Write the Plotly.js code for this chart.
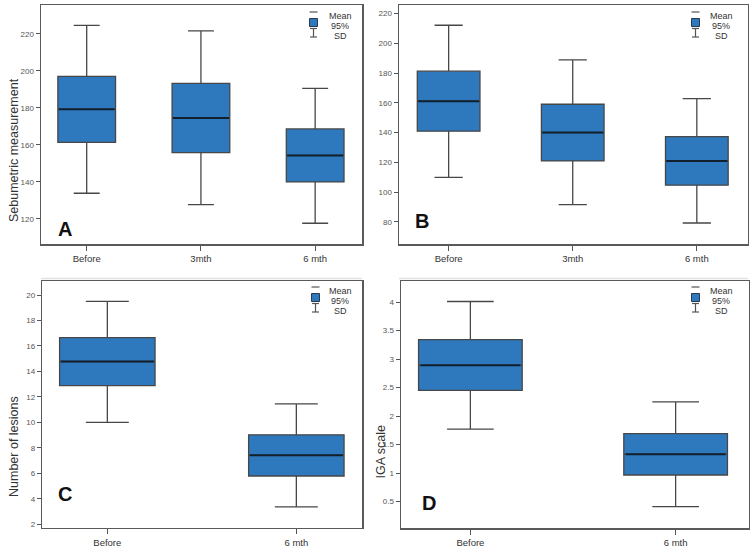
<!DOCTYPE html>
<html>
<head>
<meta charset="utf-8">
<script src="https://cdn.plot.ly/plotly-3.0.1.min.js"></script>
<style>
  html, body { margin: 0; padding: 0; background: #fff; }
  #chart { width: 753px; height: 559px; }
</style>
</head>
<body>
<div id="chart"></div>
<script>
// Categories
const groups3 = ['Before', '3mth', '6 mth'];
const groups2 = ['Before', '6 mth'];

// A - sebumetric measurement
const meanA = [179.2, 174.5, 154.3];
const ciLowA = [161.4, 155.8, 140.0];
const ciHighA = [197.0, 193.2, 168.6];
const sdLowA = [133.9, 127.7, 117.7];
const sdHighA = [224.5, 221.5, 190.5];

// B - second sebumetric panel
const meanB = [161.2, 140.1, 121.0];
const ciLowB = [141.0, 121.0, 104.7];
const ciHighB = [181.3, 159.1, 137.3];
const sdLowB = [110.0, 91.6, 79.3];
const sdHighB = [212.2, 188.9, 162.9];

// C - number of lesions
const meanC = [14.78, 7.42];
const ciLowC = [12.89, 5.79];
const ciHighC = [16.66, 9.02];
const sdLowC = [10.0, 3.37];
const sdHighC = [19.5, 11.46];

// D - IGA scale
const meanD = [2.89, 1.33];
const ciLowD = [2.45, 0.965];
const ciHighD = [3.34, 1.69];
const sdLowD = [1.77, 0.41];
const sdHighD = [4.01, 2.25];

const W = 753, H = 559;
const px = x => x / W;
const py = y => 1 - y / H;

const boxFill = '#2e79be';
const boxLine = '#474747';

function boxTrace(cats, mean, lo, hi, sdLo, sdHi, n) {
  return {
    type: 'box',
    x: cats,
    q1: lo, median: mean, q3: hi,
    lowerfence: sdLo, upperfence: sdHi,
    xaxis: 'x' + n, yaxis: 'y' + n,
    width: 0.505,
    whiskerwidth: 0.45,
    fillcolor: boxFill,
    line: { color: boxLine, width: 1.3 },
    boxpoints: false,
    hoverinfo: 'skip',
    showlegend: false
  };
}

// thicker dark mean line drawn over each box (line-ew is 1.4x its size wide)
function meanTrace(cats, mean, n, boxPx) {
  return {
    type: 'scatter',
    mode: 'markers',
    x: cats, y: mean,
    xaxis: 'x' + n, yaxis: 'y' + n,
    marker: { symbol: 'line-ew', size: boxPx / 1.4, line: { color: '#10202e', width: 2 } },
    hoverinfo: 'skip',
    showlegend: false
  };
}

const data = [
  boxTrace(groups3, meanA, ciLowA, ciHighA, sdLowA, sdHighA, ''),
  meanTrace(groups3, meanA, '', 56),
  boxTrace(groups3, meanB, ciLowB, ciHighB, sdLowB, sdHighB, '2'),
  meanTrace(groups3, meanB, '2', 61),
  boxTrace(groups2, meanC, ciLowC, ciHighC, sdLowC, sdHighC, '3'),
  meanTrace(groups2, meanC, '3', 93),
  boxTrace(groups2, meanD, ciLowD, ciHighD, sdLowD, sdHighD, '4'),
  meanTrace(groups2, meanD, '4', 100)
];

const xBase = {
  type: 'category',
  showline: true, mirror: true, linecolor: '#5a5a5a', linewidth: 1.5,
  ticks: 'outside', ticklen: 5, tickcolor: '#555', tickwidth: 1,
  showgrid: false, zeroline: false, fixedrange: true,
  tickfont: { family: 'Liberation Sans Narrow, Arial Narrow, sans-serif', size: 9.5, color: '#333' }
};
const yBase = {
  showline: true, mirror: true, linecolor: '#5a5a5a', linewidth: 1.5,
  ticks: 'outside', ticklen: 4, tickcolor: '#555', tickwidth: 1,
  showgrid: false, zeroline: false, fixedrange: true,
  tickfont: { family: 'Liberation Sans Narrow, Arial Narrow, sans-serif', size: 8, color: '#555' }
};

const shapes = [];
const annotations = [];

function legendAt(gx, ly, tx) {
  const f = { family: 'Liberation Sans, Arial, sans-serif', size: 9, color: '#333' };
  shapes.push({ type: 'line', xref: 'paper', yref: 'paper',
    x0: px(gx - 4), x1: px(gx + 4), y0: py(ly), y1: py(ly), line: { color: '#555', width: 1.2 } });
  shapes.push({ type: 'rect', xref: 'paper', yref: 'paper',
    x0: px(gx - 4), x1: px(gx + 4), y0: py(ly + 6.5), y1: py(ly + 14.5),
    fillcolor: boxFill, line: { color: '#2a3a4a', width: 1 } });
  shapes.push({ type: 'line', xref: 'paper', yref: 'paper',
    x0: px(gx), x1: px(gx), y0: py(ly + 16.5), y1: py(ly + 25), line: { color: '#555', width: 1.2 } });
  shapes.push({ type: 'line', xref: 'paper', yref: 'paper',
    x0: px(gx - 3.5), x1: px(gx + 3.5), y0: py(ly + 16.5), y1: py(ly + 16.5), line: { color: '#555', width: 1.2 } });
  shapes.push({ type: 'line', xref: 'paper', yref: 'paper',
    x0: px(gx - 3.5), x1: px(gx + 3.5), y0: py(ly + 25), y1: py(ly + 25), line: { color: '#555', width: 1.2 } });
  ['Mean', '95%', 'SD'].forEach((t, i) => {
    annotations.push({ text: t, xref: 'paper', yref: 'paper', x: px(tx), y: py(ly + 3.5 + i * 10.2),
      xanchor: 'center', yanchor: 'middle', showarrow: false, font: f });
  });
}

legendAt(313.5, 12, 340);
legendAt(695.5, 12, 721);
legendAt(315.5, 287, 340);
legendAt(695.5, 287, 721);

// panel letters
[['A', 65, 229], ['B', 422, 221], ['C', 65, 494], ['D', 429, 503]].forEach(([t, x, y]) => {
  annotations.push({ text: '<b>' + t + '</b>', xref: 'paper', yref: 'paper', x: px(x), y: py(y),
    xanchor: 'center', yanchor: 'middle', showarrow: false,
    font: { family: 'Liberation Sans, Arial, sans-serif', size: 20, color: '#111' } });
});

// y-axis titles
[['Sebumetric measurement', 14, 150], ['Number of lesions', 14, 447], ['IGA scale', 380.5, 452]].forEach(([t, x, y]) => {
  annotations.push({ text: t, xref: 'paper', yref: 'paper', x: px(x), y: py(y), textangle: -90,
    xanchor: 'center', yanchor: 'middle', showarrow: false,
    font: { family: 'Liberation Sans, Arial, sans-serif', size: 12.5, color: '#333' } });
});

// faint separators under the top panels
[[41, 362], [399, 748]].forEach(([a, b]) => {
  shapes.push({ type: 'line', xref: 'paper', yref: 'paper', x0: px(a), x1: px(b), y0: py(278.5), y1: py(278.5),
    line: { color: '#e2e2e2', width: 1.5 } });
});

const layout = {
  width: W, height: H,
  margin: { l: 0, r: 0, t: 0, b: 0 },
  paper_bgcolor: '#fff', plot_bgcolor: '#fff',
  showlegend: false,
  xaxis:  Object.assign({}, xBase, { domain: [px(41), px(362)], range: [-0.4, 2.41], anchor: 'y' }),
  yaxis:  Object.assign({}, yBase, { domain: [py(244), py(5)], range: [106.5, 235.5], dtick: 20, anchor: 'x' }),
  xaxis2: Object.assign({}, xBase, { domain: [px(399), px(747.7)], range: [-0.4, 2.41], anchor: 'y2' }),
  yaxis2: Object.assign({}, yBase, { domain: [py(244), py(5)], range: [65.2, 225.8], dtick: 20, anchor: 'x2' }),
  xaxis3: Object.assign({}, xBase, { domain: [px(42.3), px(362.3)], range: [-0.344, 1.349], anchor: 'y3' }),
  yaxis3: Object.assign({}, yBase, { domain: [py(527.7), py(281)], range: [1.73, 21.1], dtick: 2, anchor: 'x3' }),
  xaxis4: Object.assign({}, xBase, { domain: [px(401), px(748.7)], range: [-0.338, 1.356], anchor: 'y4' }),
  yaxis4: Object.assign({}, yBase, { domain: [py(528.3), py(281)], range: [0.03, 4.37], dtick: 0.5, anchor: 'x4' }),
  shapes: shapes,
  annotations: annotations
};

Plotly.newPlot('chart', data, layout, { displayModeBar: false, staticPlot: true });
</script>
</body>
</html>
